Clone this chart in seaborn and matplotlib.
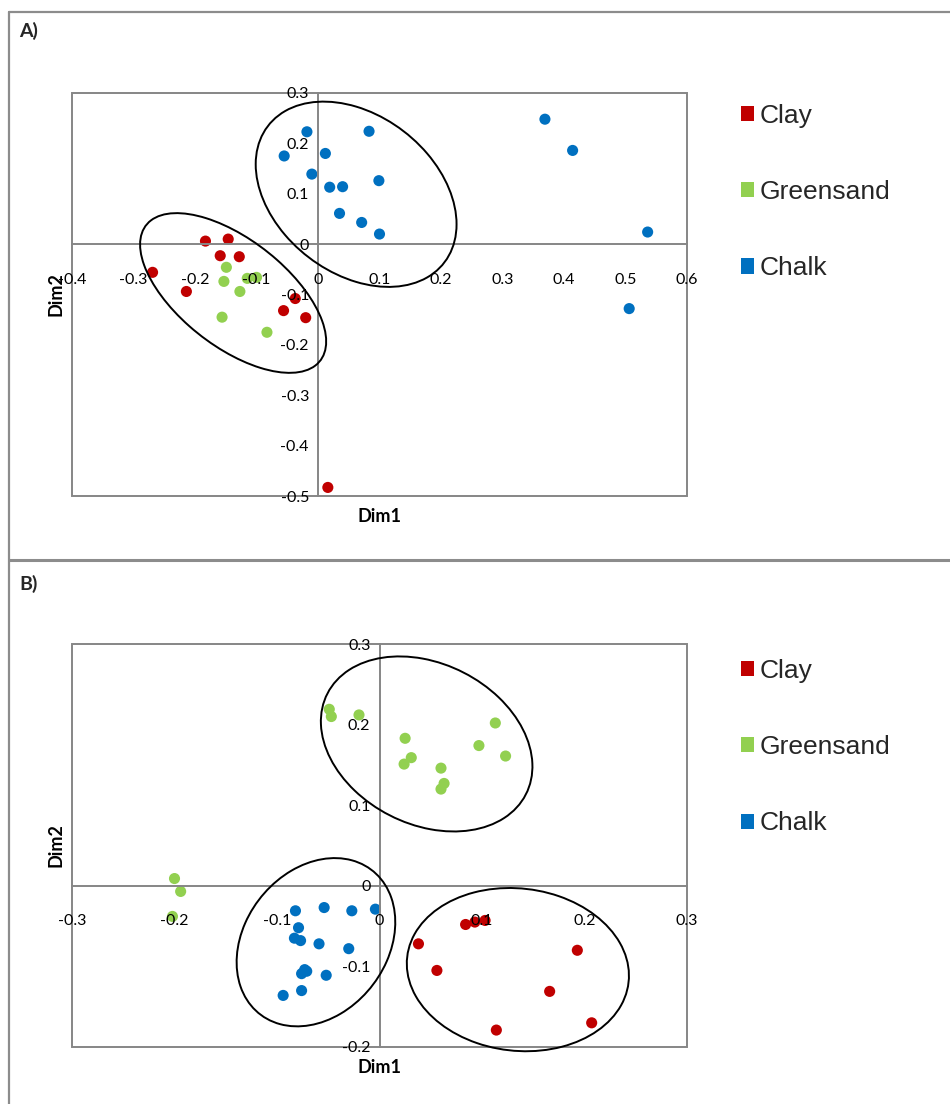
import numpy as np
import pandas as pd
import matplotlib
matplotlib.use("Agg")
import matplotlib.pyplot as plt
import seaborn as sns
from matplotlib.patches import Ellipse, Patch, Rectangle
from matplotlib.lines import Line2D

# ---- Panel A scores -------------------------------------------------------
clay_a_x = [-0.183, -0.146, -0.159, -0.128, -0.269, -0.214, -0.037, -0.056, -0.020, 0.016]
clay_a_y = [0.006, 0.010, -0.023, -0.025, -0.056, -0.094, -0.108, -0.132, -0.146, -0.483]
green_a_x = [-0.149, -0.153, -0.115, -0.100, -0.127, -0.156, -0.083]
green_a_y = [-0.046, -0.074, -0.068, -0.066, -0.094, -0.145, -0.175]
chalk_a_x = [-0.018, 0.083, -0.055, 0.012, -0.010, 0.019, 0.040, 0.099, 0.035, 0.071,
             0.100, 0.369, 0.414, 0.536, 0.506]
chalk_a_y = [0.223, 0.224, 0.175, 0.180, 0.139, 0.113, 0.114, 0.126, 0.061, 0.043,
             0.020, 0.248, 0.186, 0.024, -0.128]

# ---- Panel B scores -------------------------------------------------------
clay_b_x = [0.038, 0.056, 0.084, 0.093, 0.103, 0.193, 0.166, 0.114, 0.207]
clay_b_y = [-0.072, -0.105, -0.048, -0.045, -0.043, -0.080, -0.131, -0.179, -0.170]
green_b_x = [-0.049, -0.047, -0.020, 0.025, 0.031, 0.024, 0.060, 0.063, 0.060, 0.097,
             0.113, 0.123, -0.200, -0.194, -0.202]
green_b_y = [0.219, 0.210, 0.212, 0.183, 0.159, 0.151, 0.146, 0.127, 0.120, 0.174,
             0.202, 0.161, 0.009, -0.007, -0.038]
chalk_b_x = [-0.082, -0.054, -0.027, -0.004, -0.079, -0.083, -0.077, -0.059, -0.030, -0.073,
             -0.076, -0.071, -0.052, -0.076, -0.094]
chalk_b_y = [-0.031, -0.027, -0.031, -0.029, -0.052, -0.065, -0.068, -0.072, -0.078, -0.104,
             -0.109, -0.106, -0.111, -0.130, -0.136]

soil_types = ["Clay", "Greensand", "Chalk"]
soil_colors = ["#C00000", "#92D050", "#0070C0"]

xticks_a = [-0.4, -0.3, -0.2, -0.1, 0, 0.1, 0.2, 0.3, 0.4, 0.5, 0.6]
yticks_a = [-0.5, -0.4, -0.3, -0.2, -0.1, 0, 0.1, 0.2, 0.3]
xticks_b = [-0.3, -0.2, -0.1, 0, 0.1, 0.2, 0.3]
yticks_b = [-0.2, -0.1, 0, 0.1, 0.2, 0.3]

# group outlines: centre x, centre y, width, height, angle (data units)
outlines_a = [(0.062, 0.099, 0.403, 0.282, -55.1),
              (-0.138, -0.097, 0.393, 0.194, -47.2)]
outlines_b = [(0.046, 0.176, 0.238, 0.182, -50.6),
              (-0.062, -0.070, 0.215, 0.146, 71.0),
              (0.135, -0.104, 0.220, 0.199, -23.7)]

sns.set_theme(style="white")
plt.rcParams["font.family"] = ["Lato", "DejaVu Sans"]
plt.rcParams["axes.unicode_minus"] = False

AXIS_GREY = "#868686"
FRAME_GREY = "#8c8c8c"


def frame(xs, ys):
    rows = []
    for soil, x, y in zip(soil_types, xs, ys):
        rows.append(pd.DataFrame({"Dim1": x, "Dim2": y, "Soil": soil}))
    return pd.concat(rows, ignore_index=True)


df_a = frame([clay_a_x, green_a_x, chalk_a_x], [clay_a_y, green_a_y, chalk_a_y])
df_b = frame([clay_b_x, green_b_x, chalk_b_x], [clay_b_y, green_b_y, chalk_b_y])

fig = plt.figure(figsize=(9.5, 11.04), dpi=100)
fig.patch.set_facecolor("white")

ax_w = 615 / 950
ax_h = 403 / 1104
ax_a = fig.add_axes([72 / 950, 1 - 496 / 1104, ax_w, ax_h])
ax_b = fig.add_axes([72 / 950, 1 - 1047 / 1104, ax_w, ax_h])


def draw_panel(ax, df, xticks, yticks, outlines, legend_top):
    sns.scatterplot(data=df, x="Dim1", y="Dim2", hue="Soil", hue_order=soil_types,
                    palette=soil_colors, s=64, edgecolor="none", linewidth=0,
                    legend=False, ax=ax, zorder=2)
    ax.set_xlim(xticks[0], xticks[-1])
    ax.set_ylim(yticks[0], yticks[-1])
    ax.set_xticks(xticks)
    ax.set_yticks(yticks)
    ax.set_xticklabels([f"{t:g}" for t in xticks])
    ax.set_yticklabels([f"{t:g}" for t in yticks])
    ax.set_axisbelow(False)

    for side in ("top", "right"):
        ax.spines[side].set_visible(False)
    for side in ("left", "bottom"):
        ax.spines[side].set_position(("data", 0))
        ax.spines[side].set_color(AXIS_GREY)
        ax.spines[side].set_linewidth(1.4)
    ax.add_patch(Rectangle((0, 0), 1, 1, transform=ax.transAxes, fill=False,
                           edgecolor=AXIS_GREY, linewidth=1.4, clip_on=False, zorder=1))

    ax.tick_params(direction="inout", length=7, width=1.3, color=AXIS_GREY,
                   labelsize=11.5, labelcolor="black")
    ax.tick_params(axis="x", pad=17)
    ax.tick_params(axis="y", pad=3)

    for cx, cy, w, h, ang in outlines:
        ax.add_patch(Ellipse((cx, cy), w, h, angle=ang, fill=False,
                             edgecolor="black", linewidth=1.4, zorder=5, clip_on=False))

    ax.set_xlabel("Dim1", fontsize=13, fontweight="bold", color="black")
    ax.set_ylabel("Dim2", fontsize=13, fontweight="bold", color="black")
    ax.xaxis.set_label_coords(0.5, -0.03)
    ax.yaxis.set_label_coords(-0.013, 0.5)

    handles = [Patch(facecolor=c, edgecolor="none", label=s)
               for s, c in zip(soil_types, soil_colors)]
    ax.legend(handles=handles, loc="upper left", bbox_to_anchor=(1.087, legend_top),
              frameon=False, borderaxespad=0, borderpad=0,
              handlelength=0.5, handleheight=0.5, handletextpad=0.22,
              labelspacing=1.98, prop={"family": "Liberation Sans", "size": 19})


draw_panel(ax_a, df_a, xticks_a, yticks_a, outlines_a, 0.973)
draw_panel(ax_b, df_b, xticks_b, yticks_b, outlines_b, 0.963)

# panel frame and captions
def hline(y_px, lw):
    y = 1 - y_px / 1104
    fig.add_artist(Line2D([9 / 950, 1], [y, y], color=FRAME_GREY, linewidth=lw))


hline(12, 1.6)
hline(560, 2.2)
fig.add_artist(Line2D([9 / 950, 9 / 950], [0, 1 - 12 / 1104], color=FRAME_GREY, linewidth=1.6))

fig.text(19 / 950, 1 - 31 / 1104, "A)", fontsize=14, fontweight="bold", va="center", ha="left")
fig.text(19 / 950, 1 - 584 / 1104, "B)", fontsize=14, fontweight="bold", va="center", ha="left")

fig.savefig("out.png", dpi=100, facecolor="white")
